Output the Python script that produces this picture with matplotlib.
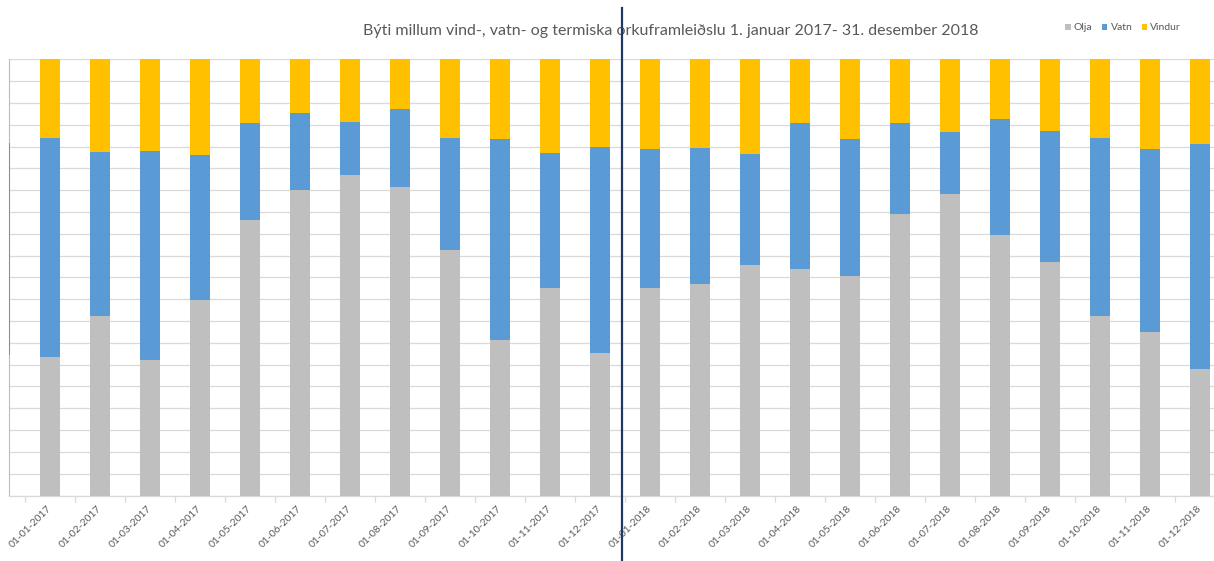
import matplotlib
matplotlib.use("Agg")
import matplotlib.pyplot as plt
from matplotlib.patches import Patch
from matplotlib.lines import Line2D
import numpy as np

# Monthly share of electricity production (%), by source
months = [
    "01-12-2016",
    "01-01-2017", "01-02-2017", "01-03-2017", "01-04-2017", "01-05-2017", "01-06-2017",
    "01-07-2017", "01-08-2017", "01-09-2017", "01-10-2017", "01-11-2017", "01-12-2017",
    "01-01-2018", "01-02-2018", "01-03-2018", "01-04-2018", "01-05-2018", "01-06-2018",
    "01-07-2018", "01-08-2018", "01-09-2018", "01-10-2018", "01-11-2018", "01-12-2018",
]
olja = [32.2,
        31.7, 41.1, 31.0, 44.9, 63.1, 70.1, 73.5, 70.7, 56.2, 35.7, 47.6, 32.7,
        47.6, 48.6, 52.8, 51.9, 50.3, 64.5, 69.2, 59.7, 53.5, 41.2, 37.4, 29.1]
vatn = [48.6,
        50.2, 37.6, 48.0, 33.2, 22.4, 17.5, 12.2, 18.0, 25.8, 46.1, 30.9, 47.2,
        31.8, 31.1, 25.5, 33.6, 31.4, 21.0, 14.1, 26.6, 30.1, 40.8, 42.0, 51.5]
vindur = [19.2,
          18.1, 21.3, 21.0, 21.9, 14.5, 12.4, 14.3, 11.3, 18.0, 18.2, 21.5, 20.1,
          20.6, 20.3, 21.7, 14.5, 18.3, 14.5, 16.7, 13.7, 16.4, 18.0, 20.6, 19.4]

series_names = ["Olja", "Vatn", "Vindur"]
colors = ["#BFBFBF", "#5B9BD5", "#FFC000"]
title = "Býti millum vind-, vatn- og termiska orkuframleiðslu 1. januar 2017- 31. desember 2018"

W, H = 1214, 561
fig = plt.figure(figsize=(W / 100, H / 100), dpi=100)
fig.patch.set_facecolor("white")

ax = fig.add_axes([9 / W, (H - 495.5) / H, (W - 9) / W, (495.5 - 59.3) / H])

x = np.arange(len(months)) - 1  # first entry sits just left of January 2017
bottom = np.zeros(len(months))
for vals, c in zip([olja, vatn, vindur], colors):
    vals = np.array(vals)
    ax.bar(x, vals, width=0.4, bottom=bottom, color=c, edgecolor="none", zorder=3)
    bottom += vals

ax.set_yticks(np.arange(0, 101, 5))
ax.yaxis.grid(True, color="#D9D9D9", linewidth=0.9, zorder=0)
ax.tick_params(axis="y", length=0, labelleft=False)

ax.set_xticks(x)
ax.set_xticklabels(months, rotation=45, ha="right", va="center",
                   rotation_mode="anchor", fontsize=7.5, color="#595959",
                   family="Lato")
ax.tick_params(axis="x", which="major", length=0, pad=8.5)
ax.set_xticks(x[1:] - 0.5, minor=True)
ax.tick_params(axis="x", which="minor", length=4, color="#D9D9D9", width=0.9)

# view limits set after the ticks so they are not widened
ax.set_xlim(-0.82, 23.28)
ax.set_ylim(0, 100)

for s in ["top", "right"]:
    ax.spines[s].set_visible(False)
for s in ["left", "bottom"]:
    ax.spines[s].set_color("#D9D9D9")
    ax.spines[s].set_linewidth(0.9)

fig.text(670.5 / W, (H - 31) / H, title, ha="center", va="center",
         fontsize=11.5, color="#595959", family="Lato")

handles = [Patch(facecolor=c, edgecolor="none") for c in colors]
fig.legend(handles, series_names, loc="center", bbox_to_anchor=(1123 / W, (H - 28) / H),
           ncol=3, frameon=False, handlelength=0.55, handleheight=0.55,
           handletextpad=0.3, columnspacing=0.9, labelcolor="#595959",
           prop={"family": "Lato", "size": 7.5})

# Divider between the two years
div_x = 622 / W
fig.add_artist(Line2D([div_x, div_x], [0, (H - 8) / H], transform=fig.transFigure,
                      color="#1F3864", linewidth=1.6, zorder=10))

fig.savefig("out.png", dpi=100)
